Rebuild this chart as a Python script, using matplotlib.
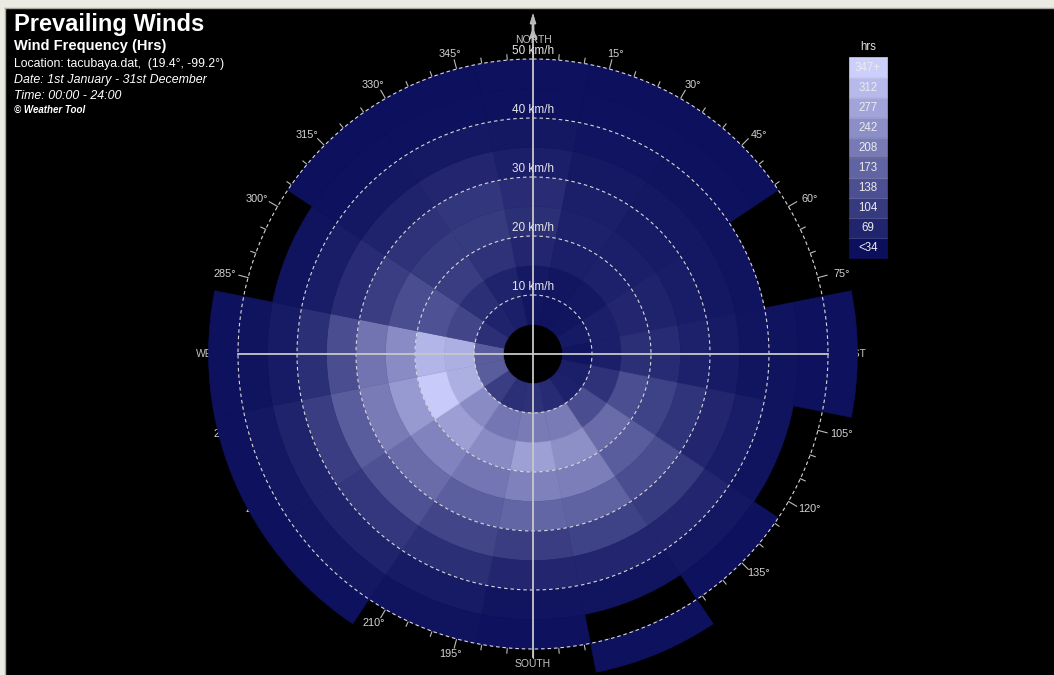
import numpy as np
import matplotlib
matplotlib.use("Agg")
import matplotlib.pyplot as plt
from matplotlib.colors import LinearSegmentedColormap, Normalize
from matplotlib.patches import Rectangle, Polygon
from matplotlib.transforms import ScaledTranslation

# ---------------- data ----------------
directions = ['N', 'NNE', 'NE', 'ENE', 'E', 'ESE', 'SE', 'SSE',
              'S', 'SSW', 'SW', 'WSW', 'W', 'WNW', 'NW', 'NNW']
dir_deg = [0, 22.5, 45, 67.5, 90, 112.5, 135, 157.5,
           180, 202.5, 225, 247.5, 270, 292.5, 315, 337.5]
speed_lo = [5, 10, 15, 20, 25, 30, 35, 40, 45, 50]   # km/h, lower edge of each band
band_width = 5
# hours per direction (N ... NNW) for each wind-speed band
hrs_05_10 = [12, 8, 10, 18, 10, 28, 30, 50, 60, 56, 84, 140, 140, 58, 35, 28]
hrs_10_15 = [17, 12, 14, 28, 28, 63, 112, 196, 196, 186, 224, 290, 290, 98, 56, 35]
hrs_15_20 = [42, 28, 31, 42, 56, 114, 168, 233, 262, 224, 259, 340, 300, 119, 84, 63]
hrs_20_25 = [56, 31, 28, 35, 49, 91, 140, 200, 207, 186, 210, 252, 224, 112, 77, 77]
hrs_25_30 = [52, 28, 21, 24, 31, 66, 112, 152, 158, 144, 168, 196, 182, 84, 63, 70]
hrs_30_35 = [28, 17, 14, 14, 21, 42, 77, 91, 84, 98, 119, 140, 112, 52, 35, 42]
hrs_35_40 = [14, 9, 7, 7, 10, 24, 42, 42, 42, 56, 72, 84, 56, 24, 14, 17]
hrs_40_45 = [4, 4, 4, 0, 7, 7, 14, 10, 10, 21, 35, 35, 21, 7, 4, 4]
hrs_45_50 = [4, 2, 2, 0, 4, 0, 4, 0, 4, 7, 14, 14, 7, 0, 2, 2]
hrs_50_55 = [0, 0, 0, 0, 3, 0, 0, 3, 0, 0, 4, 4, 3, 0, 0, 0]
bands = [hrs_05_10, hrs_10_15, hrs_15_20, hrs_20_25, hrs_25_30,
         hrs_30_35, hrs_35_40, hrs_40_45, hrs_45_50, hrs_50_55]

legend_labels = ['<34', '69', '104', '138', '173', '208', '242', '277', '312', '347+']
legend_max = 347
ring_speeds = [10, 20, 30, 40, 50]
angle_labels = [a for a in range(15, 360, 15) if a % 90 != 0]
cardinals = [('NORTH', 0, 53.3), ('EAST', 90, 54.1), ('SOUTH', 180, 52.6), ('WEST', 270, 54.6)]

# ---------------- figure ----------------
W, H = 1054, 675
cx, cy = 533, 354          # rose centre (px from top-left)
rmax = 60                  # km/h at the polar axes edge
px_per_kmh = 5.9
R = rmax * px_per_kmh

fig = plt.figure(figsize=(W / 100, H / 100), dpi=100, facecolor='#ecebe3')
bg = fig.add_axes([5 / W, 0, 1 - 5 / W, (H - 8) / H])
bg.set_facecolor('black')
bg.set_xticks([])
bg.set_yticks([])
for sp in bg.spines.values():
    sp.set_visible(False)
fig.lines.append(plt.Line2D([5 / W, 1], [(H - 7.5) / H] * 2, transform=fig.transFigure,
                            color='#a8a8a0', lw=1.0))
fig.lines.append(plt.Line2D([4.5 / W] * 2, [0, (H - 8) / H], transform=fig.transFigure,
                            color='#a8a8a0', lw=1.0))

ax = fig.add_axes([(cx - R) / W, (H - cy - R) / H, 2 * R / W, 2 * R / H], projection='polar')
ax.set_theta_zero_location('N')
ax.set_theta_direction(-1)
ax.set_ylim(0, rmax)
ax.axis('off')

cmap = LinearSegmentedColormap.from_list('wt', ['#0c105c', '#cccefc'], N=256)
norm = Normalize(0, legend_max)

fontfam = ['Liberation Sans', 'DejaVu Sans']
light = '#d4d4d4'

# degree ticks & labels (under the bars)
for a in range(0, 360, 5):
    t = np.deg2rad(a)
    ln = 1.6 if a % 15 == 0 else 0.9
    ax.plot([t, t], [50, 50 + ln], color='#bcbcbc', lw=0.8, zorder=1)
for a in angle_labels:
    t = np.deg2rad(a)
    off = ScaledTranslation(9 * np.sin(t) / 100, 0, fig.dpi_scale_trans)
    ax.text(t, 52.6, f'{a}°', ha='center', va='center', color=light, fontsize=7.8,
            family=fontfam, transform=ax.transData + off, zorder=1)
for name, a, r in cardinals:
    ax.text(np.deg2rad(a), r, name, ha='center', va='center', color='#c4c4c4',
            fontsize=7.5, family=fontfam, zorder=1)

# wind rose cells
theta = np.deg2rad(dir_deg)
width = np.deg2rad(360 / len(directions))
for lo, vals in zip(speed_lo, bands):
    vals = np.asarray(vals, dtype=float)
    m = vals > 0
    cols = cmap(norm(np.clip(vals[m], 0, legend_max)))
    ax.bar(theta[m], band_width, width=width, bottom=lo, color=cols,
           edgecolor=cols, linewidth=0.4, align='center', zorder=2)

# dashed speed rings + labels
tt = np.linspace(0, 2 * np.pi, 721)
for s in ring_speeds:
    ax.plot(tt, np.full_like(tt, s), color='#d8d8d8', lw=0.8, ls=(0, (3.2, 2.6)), zorder=4)
    ax.text(0, s + 1.3, f'{s} km/h', ha='center', va='center', color='#e6e6e6',
            fontsize=8.5, family=fontfam, zorder=6)

# cross hair
xc = '#c8c8c8'
ax.plot([0, 0], [0, 56], color=xc, lw=1.3, zorder=5)
ax.plot([np.pi, np.pi], [0, 51.3], color=xc, lw=1.3, zorder=5)
ax.plot([np.pi / 2, np.pi / 2], [0, 50], color=xc, lw=1.3, zorder=5)
ax.plot([3 * np.pi / 2, 3 * np.pi / 2], [0, 50], color=xc, lw=1.3, zorder=5)

# ---------------- overlay (pixel coordinates) ----------------
ov = fig.add_axes([0, 0, 1, 1])
ov.set_xlim(0, W)
ov.set_ylim(H, 0)
ov.axis('off')

# north arrow
ov.add_patch(Polygon([[cx, 14], [cx + 3, 24], [cx + 1, 24], [cx + 1, 31], [cx + 4, 40],
                      [cx, 36], [cx - 4, 40], [cx - 1, 31], [cx - 1, 24], [cx - 3, 24]],
                     closed=True, facecolor='#b8b8b8', edgecolor='#d0d0d0', lw=0.5))

# legend
lx, ly0, lw_, lh = 849, 57, 38, 20.1
ov.text(lx + lw_ / 2, 47, 'hrs', ha='center', va='center', color='#e0e0e0',
        fontsize=8.3, family=fontfam)
n = len(legend_labels)
for i, lab in enumerate(legend_labels):
    y = ly0 + (n - 1 - i) * lh
    c = cmap(i / (n - 1))
    ov.add_patch(Rectangle((lx, y), lw_, lh, facecolor=c, edgecolor=c, lw=0.5))
    ov.plot([lx, lx + lw_], [y + 0.5, y + 0.5], color='white', alpha=0.12, lw=0.8)
    ov.text(lx + lw_ / 2, y + lh / 2 + 0.5, lab, ha='center', va='center', color='#ececec',
            fontsize=8.3, family=fontfam)

# header texts
ov.text(14, 24, 'Prevailing Winds', ha='left', va='center', color='white',
        fontsize=17, fontweight='bold', family=fontfam)
ov.text(14, 46, 'Wind Frequency (Hrs)', ha='left', va='center', color='white',
        fontsize=10.5, fontweight='bold', family=fontfam)
ov.text(14, 64, 'Location: tacubaya.dat,  (19.4°, -99.2°)', ha='left', va='center',
        color='white', fontsize=8.8, family=fontfam)
ov.text(14, 80, 'Date: 1st January - 31st December', ha='left', va='center',
        color='white', fontsize=8.9, style='italic', family=fontfam)
ov.text(14, 96, 'Time: 00:00 - 24:00', ha='left', va='center',
        color='white', fontsize=8.9, style='italic', family=fontfam)
ov.text(14, 110, '© Weather Tool', ha='left', va='center',
        color='white', fontsize=7.0, style='italic', fontweight='bold', family=fontfam)

fig.savefig('out.png', dpi=100, facecolor=fig.get_facecolor())
